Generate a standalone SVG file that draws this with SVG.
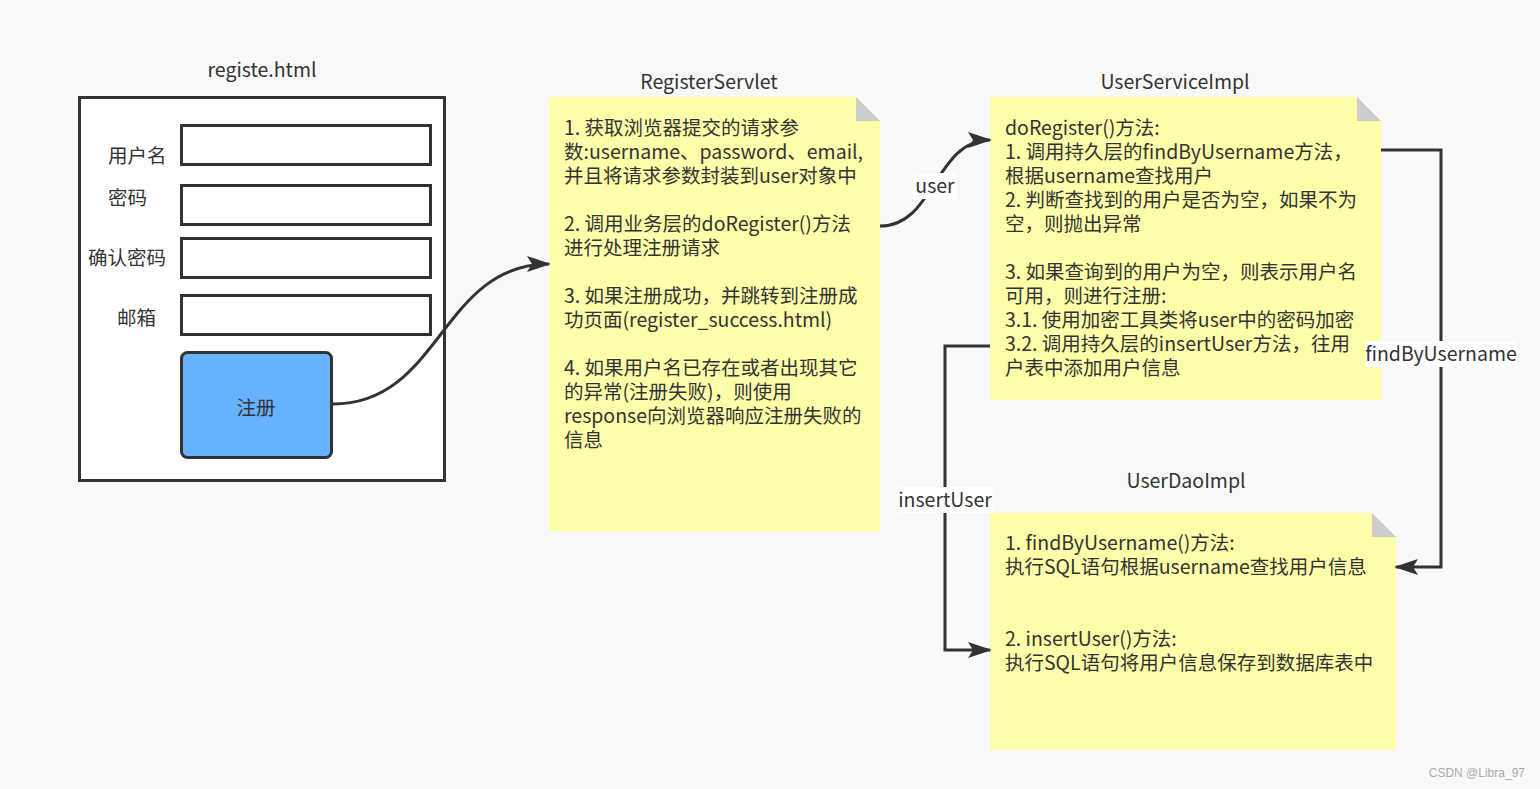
<svg xmlns="http://www.w3.org/2000/svg" width="1540" height="789" viewBox="0 0 1540 789">
<defs>
<style>
text{font-family:"Noto Sans CJK SC","Liberation Sans",sans-serif;font-size:19.500px;fill:#333}
.title{text-anchor:middle}
.frame{fill:#fff;stroke:#333;stroke-width:3}
.note{fill:#ffffaa}
.fold{fill:#cccccc}
.conn{fill:none;stroke:#333;stroke-width:3}
.lbg{fill:#fff}
.lbl{text-anchor:middle}
</style>
<marker id="arr" viewBox="0 0 24 16" refX="22" refY="8" markerWidth="24" markerHeight="16" markerUnits="userSpaceOnUse" orient="auto">
<path d="M0,0 L24,8 L0,16 L5,8 Z" fill="#333"/>
</marker>
</defs>
<rect width="1540" height="789" fill="#f9f9f9"/>

<g id="registe-html">
<text class="title" x="262" y="77">registe.html</text>
<rect class="frame" x="79.500" y="97.500" width="365" height="383"/>
<rect class="frame" x="181.500" y="125.500" width="249" height="39"/>
<rect class="frame" x="181.500" y="185.500" width="249" height="39"/>
<rect class="frame" x="181.500" y="238.500" width="249" height="39"/>
<rect class="frame" x="181.500" y="295.500" width="249" height="39"/>
<text x="108" y="163">用户名</text>
<text x="108" y="205">密码</text>
<text x="88" y="265">确认密码</text>
<text x="117" y="325">邮箱</text>
</g>

<g id="btn-register">
<rect x="181.500" y="352.500" width="150" height="105" rx="6" fill="#66b2ff" stroke="#333" stroke-width="3"/>
<text class="title" x="256" y="415">注册</text>
</g>

<g id="register-servlet">
<text class="title" x="709" y="89">RegisterServlet</text>
<path class="note" d="M549,97 H856 L880,121 V531 H549 Z"/>
<path class="fold" d="M856,97 L880,121 H856 Z"/>
<text x="564">
<tspan x="564" y="135">1. 获取浏览器提交的请求参</tspan>
<tspan x="564" y="159">数:username、password、email,</tspan>
<tspan x="564" y="183">并且将请求参数封装到user对象中</tspan>
<tspan x="564" y="231">2. 调用业务层的doRegister()方法</tspan>
<tspan x="564" y="255">进行处理注册请求</tspan>
<tspan x="564" y="303">3. 如果注册成功，并跳转到注册成</tspan>
<tspan x="564" y="327">功页面(register_success.html)</tspan>
<tspan x="564" y="375">4. 如果用户名已存在或者出现其它</tspan>
<tspan x="564" y="399">的异常(注册失败)，则使用</tspan>
<tspan x="564" y="423">response向浏览器响应注册失败的</tspan>
<tspan x="564" y="447">信息</tspan>
</text>
</g>

<g id="user-service-impl">
<text class="title" x="1175" y="89">UserServiceImpl</text>
<path class="note" d="M990,97 H1357 L1381,121 V400 H990 Z"/>
<path class="fold" d="M1357,97 L1381,121 H1357 Z"/>
<text x="1005">
<tspan x="1005" y="135">doRegister()方法:</tspan>
<tspan x="1005" y="159">1. 调用持久层的findByUsername方法，</tspan>
<tspan x="1005" y="183">根据username查找用户</tspan>
<tspan x="1005" y="207">2. 判断查找到的用户是否为空，如果不为</tspan>
<tspan x="1005" y="231">空，则抛出异常</tspan>
<tspan x="1005" y="279">3. 如果查询到的用户为空，则表示用户名</tspan>
<tspan x="1005" y="303">可用，则进行注册:</tspan>
<tspan x="1005" y="327">3.1. 使用加密工具类将user中的密码加密</tspan>
<tspan x="1005" y="351">3.2. 调用持久层的insertUser方法，往用</tspan>
<tspan x="1005" y="375">户表中添加用户信息</tspan>
</text>
</g>

<g id="user-dao-impl">
<text class="title" x="1186" y="488">UserDaoImpl</text>
<path class="note" d="M990,513 H1372 L1396,537 V750 H990 Z"/>
<path class="fold" d="M1372,513 L1396,537 H1372 Z"/>
<text x="1005">
<tspan x="1005" y="550">1. findByUsername()方法:</tspan>
<tspan x="1005" y="574">执行SQL语句根据username查找用户信息</tspan>
<tspan x="1005" y="646">2. insertUser()方法:</tspan>
<tspan x="1005" y="670">执行SQL语句将用户信息保存到数据库表中</tspan>
</text>
</g>

<g id="connectors">
<path class="conn" d="M333,404 C441,404 441,264 549,264" marker-end="url(#arr)"/>
<path class="conn" d="M880,226 C935,226 935,140 990,140" marker-end="url(#arr)"/>
<path class="conn" d="M1381,150 H1441 V567 H1396" marker-end="url(#arr)"/>
<path class="conn" d="M990,346 H945 V650 H990" marker-end="url(#arr)"/>
<rect class="lbg" x="913" y="173" width="44" height="26"/>
<text class="lbl" x="935" y="193">user</text>
<rect class="lbg" x="1365" y="341" width="152" height="26"/>
<text class="lbl" x="1441" y="361">findByUsername</text>
<rect class="lbg" x="897" y="487" width="96" height="26"/>
<text class="lbl" x="945" y="507">insertUser</text>
</g>

<text x="1525" y="777" text-anchor="end" style="font-size:12px;fill:#aaa;font-family:'Liberation Sans',sans-serif">CSDN @Libra_97</text>
</svg>
